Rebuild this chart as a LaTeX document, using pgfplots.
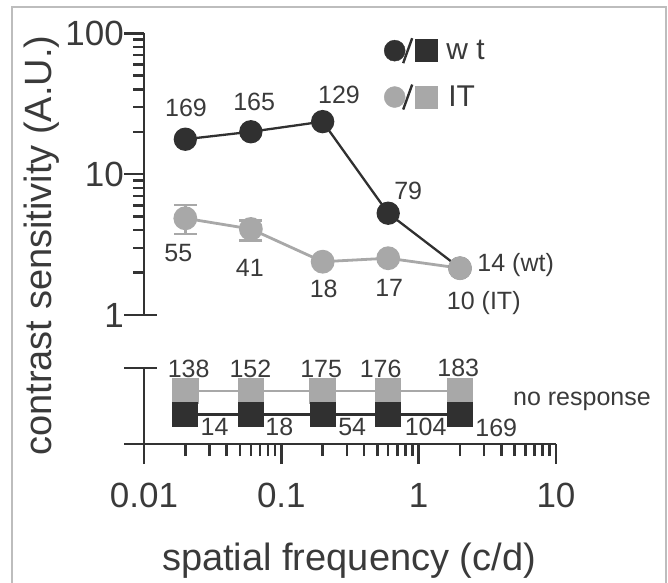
\documentclass[border=0pt]{standalone}
\usepackage{fontspec}
\setmainfont{Liberation Sans}
\usepackage{pgfplots}
\pgfplotsset{compat=1.18}
\definecolor{dk}{HTML}{303030}
\definecolor{gy}{HTML}{A8A8A8}
\definecolor{txt}{HTML}{3A3A3A}
\definecolor{ax}{HTML}{333333}
\definecolor{fr}{HTML}{BDBDBD}
\tikzset{lab/.style={font=\fontsize{25bp}{30bp}\selectfont, text=txt, inner sep=0pt, anchor=center}}
\begin{document}
\begin{tikzpicture}
\useasboundingbox (0,0) rectangle (668bp,583bp);
\draw[fr, line width=1.8bp] (12bp,-2bp) -- (12bp,576bp) -- (666bp,576bp) -- (666bp,-2bp);

% ---------- upper panel ----------
\begin{axis}[scale only axis, width=412bp, height=281.7bp,
  at={(144bp,268bp)}, anchor=south west,
  xmode=log, ymode=log, xmin=0.01, xmax=10, ymin=1, ymax=100,
  axis x line=none, axis y line=left, xtick=\empty,
  axis line style={ax, line width=2.5bp, -},
  x axis line style={-}, y axis line style={-},
  tick style={ax, line width=2.5bp},
  tick align=outside,
  major tick length=20bp, minor tick length=11bp,
  ticklabel style={font=\fontsize{35bp}{42bp}\selectfont, text=txt, inner sep=0pt},
  clip=false,
  ytick={1,10,100}, yticklabels={1,10,100},
  minor ytick={2,3,4,5,6,7,8,9,20,30,40,50,60,70,80,90},
  ylabel style={at={(rel axis cs:-0.2233,0.2467)}, rotate=0, anchor=base,
     font=\fontsize{38bp}{44bp}\selectfont, text=txt, inner sep=0pt},
  ylabel={contrast sensitivity (A.U.)},
  legend style={at={(rel axis cs:0.5825,0.987)}, anchor=north west, draw=none, fill=none,
     inner sep=0pt, outer sep=0pt, row sep=19bp, column sep=9bp,
     font=\fontsize{30bp}{36bp}\selectfont, text=txt,
     nodes={inner sep=0pt, outer sep=0pt}},
  legend cell align=left,
]
\addlegendimage{legend image code/.code={
   \fill[dk] (10.5bp,0bp) circle (10.5bp);
   \draw[dk, line width=2.4bp] (19bp,-12.5bp) -- (28bp,12.5bp);
   \fill[dk] (31bp,-11bp) rectangle (53bp,11bp);}}
\addlegendentry{w t}
\addlegendimage{legend image code/.code={
   \fill[gy] (10.5bp,0bp) circle (10.5bp);
   \draw[dk, line width=2.4bp] (19bp,-12.5bp) -- (28bp,12.5bp);
   \fill[gy] (31bp,-11bp) rectangle (53bp,11bp);}}
\addlegendentry{\hspace*{2bp}IT}

% wt
\addplot[forget plot, dk, line width=2.3bp, mark=*, mark size=10.5bp,
  mark options={draw=none, fill=dk}] coordinates {
  (0.02,17.7) (0.06,20.0) (0.2,23.6) (0.6,5.28) (2,2.15)};
% IT error bars
\addplot[forget plot, draw=none, mark=none,
  error bars/.cd, y dir=both, y explicit,
  error bar style={draw=gy, line width=2.5bp},
  error mark options={draw=gy, rotate=90, mark size=11.5bp, line width=2.5bp}] coordinates {
  (0.02,4.86) += (0,1.18) -= (0,1.10)
  (0.06,4.08) += (0,0.60) -= (0,0.71)};
% IT
\addplot[forget plot, gy, line width=2.8bp, mark=*, mark size=10.5bp,
  mark options={draw=none, fill=gy}] coordinates {
  (0.02,4.86) (0.06,4.08) (0.2,2.39) (0.6,2.53) (2,2.15)};

\node[lab, xshift=0.7bp, yshift=31.8bp] at (axis cs:0.02,17.7) {169};
\node[lab, xshift=3.3bp, yshift=30bp] at (axis cs:0.06,20.0) {165};
\node[lab, xshift=16.3bp, yshift=26.7bp] at (axis cs:0.2,23.6) {129};
\node[lab, xshift=20bp, yshift=22.3bp] at (axis cs:0.6,5.28) {79};
\node[lab, xshift=-7bp, yshift=-34.7bp] at (axis cs:0.02,4.86) {55};
\node[lab, xshift=-1bp, yshift=-39bp] at (axis cs:0.06,4.08) {41};
\node[lab, xshift=1bp, yshift=-27.3bp] at (axis cs:0.2,2.39) {18};
\node[lab, xshift=1bp, yshift=-29.2bp] at (axis cs:0.6,2.53) {17};
\node[lab, anchor=base west, xshift=17.3bp, yshift=-3.4bp] at (axis cs:2,2.15) {14 (wt)};
\node[lab, anchor=base, xshift=23.8bp, yshift=-41.7bp] at (axis cs:2,2.15) {10 (IT)};
\end{axis}

% inner half of the crossing tick at 1
\begin{axis}[scale only axis, width=412bp, height=281.7bp,
  at={(144bp,268bp)}, anchor=south west,
  xmode=log, ymode=log, xmin=0.01, xmax=10, ymin=1, ymax=100,
  axis x line=none, axis y line=left, xtick=\empty,
  y axis line style={draw=none},
  tick style={ax, line width=2.5bp}, tick align=inside, major tick length=13bp,
  ytick={1}, yticklabels={}, minor ytick={},
]
\end{axis}

% ---------- lower panel ----------
\begin{axis}[scale only axis, width=412bp, height=76bp,
  at={(144bp,139bp)}, anchor=south west,
  xmode=log, xmin=0.01, xmax=10, ymin=0, ymax=1,
  axis x line=bottom, axis y line=left,
  axis line style={ax, line width=2.5bp, -},
  x axis line style={-}, y axis line style={-},
  tick style={ax, line width=2.5bp},
  tick align=outside,
  major tick length=20bp, minor tick length=12bp,
  ticklabel style={font=\fontsize{35bp}{42bp}\selectfont, text=txt, inner sep=0pt},
  xticklabel style={yshift=-19bp},
  clip=false,
  xtick={0.01,0.1,1,10}, xticklabels={0.01,0.1,1,10},
  minor xtick={0.02,0.03,0.04,0.05,0.06,0.07,0.08,0.09,0.2,0.3,0.4,0.5,0.6,0.7,0.8,0.9,2,3,4,5,6,7,8,9},
  ytick={0,1}, yticklabels={,},
  xlabel style={at={(rel axis cs:0.4976,-1.67)}, anchor=base,
     font=\fontsize{38bp}{44bp}\selectfont, text=txt, inner sep=0pt},
  xlabel={spatial frequency (c/d)},
]
\addplot[gy, line width=2.5bp, mark=square*, mark size=12bp,
  mark options={draw=none, fill=gy}] coordinates {
  (0.02,0.70) (0.06,0.70) (0.2,0.70) (0.6,0.70) (2,0.70)};
\addplot[dk, line width=2.3bp, mark=square*, mark size=11.7bp,
  mark options={draw=none, fill=dk}] coordinates {
  (0.02,0.39) (0.06,0.39) (0.2,0.39) (0.6,0.39) (2,0.39)};

\node[lab, xshift=3.3bp, yshift=22bp] at (axis cs:0.02,0.70) {138};
\node[lab, xshift=-0.5bp, yshift=22bp] at (axis cs:0.06,0.70) {152};
\node[lab, xshift=-1.5bp, yshift=22bp] at (axis cs:0.2,0.70) {175};
\node[lab, xshift=-7.5bp, yshift=22bp] at (axis cs:0.6,0.70) {176};
\node[lab, xshift=-1.7bp, yshift=23bp] at (axis cs:2,0.70) {183};
\node[lab, xshift=29.3bp, yshift=-13bp] at (axis cs:0.02,0.39) {14};
\node[lab, xshift=28.5bp, yshift=-13bp] at (axis cs:0.06,0.39) {18};
\node[lab, xshift=29.5bp, yshift=-13bp] at (axis cs:0.2,0.39) {54};
\node[lab, xshift=37.5bp, yshift=-13bp] at (axis cs:0.6,0.39) {104};
\node[lab, xshift=36.3bp, yshift=-13.5bp] at (axis cs:2,0.39) {169};
\node[lab, anchor=base west] at (rel axis cs:0.8956,0.513) {no response};
\end{axis}

% inner half of the crossing ticks of the lower panel
\begin{axis}[scale only axis, width=412bp, height=76bp,
  at={(144bp,139bp)}, anchor=south west,
  xmode=log, xmin=0.01, xmax=10, ymin=0, ymax=1,
  axis x line=none, axis y line=left, xtick=\empty,
  y axis line style={draw=none},
  tick style={ax, line width=2.5bp}, tick align=inside, major tick length=13bp,
  ytick={1}, yticklabels={},
]
\end{axis}
\end{tikzpicture}
\end{document}
